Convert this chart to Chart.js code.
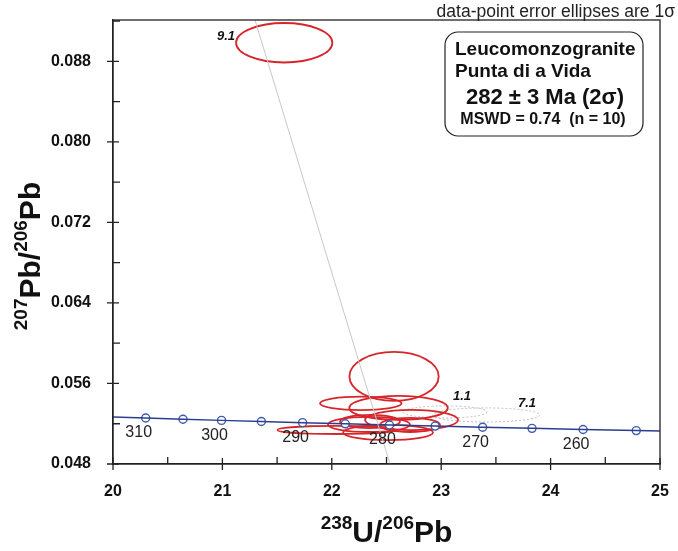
<!DOCTYPE html>
<html>
<head>
<meta charset="utf-8">
<script src="https://cdn.jsdelivr.net/npm/chart.js@4"></script>
<style>
  body { margin: 0; background: #fff; }
  #wrap { width: 678px; height: 551px; }
</style>
</head>
<body>
<div id="wrap"><canvas id="chart" width="678" height="551"></canvas></div>
<script>
// concordia ages (Ma) and their marker positions
const ages = [310, 305, 300, 295, 290, 285, 280, 275, 270, 265, 260, 255];
const concX = [20.299, 20.640, 20.992, 21.356, 21.733, 22.123, 22.527, 22.945, 23.379, 23.830, 24.297, 24.783];
const concY = [0.052565, 0.052449, 0.052333, 0.052219, 0.052105, 0.051991, 0.051877, 0.051764, 0.051652, 0.051539, 0.051427, 0.051315];
// curve ends at the axis limits
const curveEndX = [20, 25];
const curveEndY = [0.052664, 0.051266];

// accepted analyses (red ellipses): centre and 1 sigma half-axes
const ellX  = [21.565, 22.569, 22.265, 22.610, 22.042, 22.340, 22.729, 22.514, 22.349, 22.715];
const ellY  = [0.08984, 0.05670, 0.05403, 0.05357, 0.05138, 0.05193, 0.05237, 0.05113, 0.05222, 0.05188];
const ellRX = [0.440, 0.408, 0.373, 0.450, 0.539, 0.375, 0.425, 0.411, 0.274, 0.274];
const ellRY = [0.00196, 0.00243, 0.00067, 0.00119, 0.00040, 0.00075, 0.00100, 0.00075, 0.00065, 0.00070];

// excluded analyses (dotted grey)
const rejX  = [23.035, 23.41];
const rejY  = [0.05317, 0.05287];
const rejRX = [0.384, 0.49];
const rejRY = [0.0006, 0.0007];

// spot labels
const spotNames = ['9.1', '1.1', '7.1'];
const spotX = [21.033, 23.19, 23.784];
const spotY = [0.09044, 0.05476, 0.05406];

// regression line through 9.1
const regX = [21.298, 22.532];
const regY = [0.0921, 0.048];

const xTickLabels = ['20', '21', '22', '23', '24', '25'];
const yTickLabels = ['0.048', '0.056', '0.064', '0.072', '0.080', '0.088'];

const FONT = '"Liberation Sans", Arial, sans-serif';
const RED = '#d7262b';

function pts(xs, ys) {
    return xs.map((x, i) => ({x: x, y: ys[i]}));
}

const curvePts = [{x: curveEndX[0], y: curveEndY[0]}]
    .concat(pts(concX, concY))
    .concat([{x: curveEndX[1], y: curveEndY[1]}]);

function isMajor(v, step) {
    return Math.abs(Math.round(v / step) * step - v) < 1e-9;
}

function drawParts(ctx, parts, big, small, cx, baseY) {
    let w = 0;
    parts.forEach(p => {
        ctx.font = 'bold ' + (p.sup ? small : big) + 'px ' + FONT;
        p.w = ctx.measureText(p.t).width;
        w += p.w;
    });
    let x = cx - w / 2;
    ctx.textAlign = 'left';
    ctx.textBaseline = 'alphabetic';
    parts.forEach(p => {
        ctx.font = 'bold ' + (p.sup ? small : big) + 'px ' + FONT;
        ctx.fillText(p.t, x, p.sup ? baseY - big * 0.42 : baseY);
        x += p.w;
    });
}

const extras = {
    id: 'extras',
    beforeDatasetsDraw(chart) {
        const ctx = chart.ctx, a = chart.chartArea;
        const xs = chart.scales.x, ys = chart.scales.y;
        ctx.save();
        ctx.beginPath();
        ctx.rect(a.left, a.top, a.right - a.left, a.bottom - a.top);
        ctx.clip();
        // excluded
        ctx.strokeStyle = '#bdbdbd';
        ctx.lineWidth = 1;
        ctx.setLineDash([2, 2]);
        rejX.forEach((cx, i) => {
            const px = xs.getPixelForValue(cx), py = ys.getPixelForValue(rejY[i]);
            const rx = Math.abs(xs.getPixelForValue(cx + rejRX[i]) - px);
            const ry = Math.abs(ys.getPixelForValue(rejY[i] + rejRY[i]) - py);
            ctx.beginPath();
            ctx.ellipse(px, py, rx, ry, 0, 0, Math.PI * 2);
            ctx.stroke();
        });
        ctx.setLineDash([]);
        ctx.strokeStyle = RED;
        ctx.lineWidth = 1.8;
        ellX.forEach((cx, i) => {
            const px = xs.getPixelForValue(cx), py = ys.getPixelForValue(ellY[i]);
            const rx = Math.abs(xs.getPixelForValue(cx + ellRX[i]) - px);
            const ry = Math.abs(ys.getPixelForValue(ellY[i] + ellRY[i]) - py);
            ctx.beginPath();
            ctx.ellipse(px, py, rx, ry, 0, 0, Math.PI * 2);
            ctx.stroke();
        });
        ctx.restore();
    },
    afterDraw(chart) {
        const ctx = chart.ctx, a = chart.chartArea;
        const xs = chart.scales.x, ys = chart.scales.y;
        ctx.save();
        // frame
        ctx.strokeStyle = '#222';
        ctx.lineWidth = 1.3;
        ctx.strokeRect(a.left, a.top, a.right - a.left, a.bottom - a.top);
        // ticks
        ctx.beginPath();
        xs.ticks.forEach(t => {
            const px = xs.getPixelForValue(t.value);
            if (isMajor(t.value, 1)) {
                ctx.moveTo(px, a.bottom + 6); ctx.lineTo(px, a.bottom - 6);
            } else {
                ctx.moveTo(px, a.bottom); ctx.lineTo(px, a.bottom - 7);
            }
        });
        ys.ticks.forEach(t => {
            const py = ys.getPixelForValue(t.value);
            if (isMajor(t.value, 0.008)) {
                ctx.moveTo(a.left - 6, py); ctx.lineTo(a.left + 6, py);
            } else {
                ctx.moveTo(a.left, py); ctx.lineTo(a.left + 7, py);
            }
        });
        ctx.stroke();

        // age labels every 10 Ma
        ctx.fillStyle = '#222';
        ctx.font = '16px ' + FONT;
        ctx.textAlign = 'center';
        ctx.textBaseline = 'middle';
        ages.forEach((age, i) => {
            if (age % 10 !== 0) return;
            ctx.fillText(String(age), xs.getPixelForValue(concX[i]) - 7, ys.getPixelForValue(concY[i]) + 15);
        });

        // spot labels
        ctx.fillStyle = '#111';
        ctx.font = 'italic bold 13px ' + FONT;
        spotNames.forEach((s, i) => {
            ctx.fillText(s, xs.getPixelForValue(spotX[i]), ys.getPixelForValue(spotY[i]));
        });

        // axis titles
        ctx.fillStyle = '#111';
        drawParts(ctx, [{t: '238', sup: true}, {t: 'U/', sup: false}, {t: '206', sup: true}, {t: 'Pb', sup: false}],
            30, 19, (a.left + a.right) / 2, 542);
        ctx.save();
        ctx.translate(29, 256);
        ctx.rotate(-Math.PI / 2);
        drawParts(ctx, [{t: '207', sup: true}, {t: 'Pb/', sup: false}, {t: '206', sup: true}, {t: 'Pb', sup: false}],
            30, 19, 0, 11);
        ctx.restore();

        // note
        ctx.font = '17.5px ' + FONT;
        ctx.textAlign = 'right';
        ctx.textBaseline = 'alphabetic';
        ctx.fillStyle = '#222';
        ctx.fillText('data-point error ellipses are 1\u03c3', 675, 17);

        // result box
        ctx.beginPath();
        ctx.roundRect(445, 32, 198, 104, 13);
        ctx.fillStyle = '#fff';
        ctx.fill();
        ctx.strokeStyle = '#222';
        ctx.lineWidth = 1.2;
        ctx.stroke();
        ctx.fillStyle = '#111';
        ctx.textBaseline = 'middle';
        ctx.textAlign = 'left';
        ctx.font = 'bold 19px ' + FONT;
        ctx.fillText('Leucomonzogranite', 455, 50);
        ctx.fillText('Punta di a Vida', 455, 72);
        ctx.textAlign = 'center';
        ctx.font = 'bold 22px ' + FONT;
        ctx.fillText('282 \u00b1 3 Ma (2\u03c3)', 545, 98);
        ctx.font = 'bold 16px ' + FONT;
        ctx.fillText('MSWD = 0.74  (n = 10)', 543, 120);
        ctx.restore();
    }
};

new Chart(document.getElementById('chart'), {
    type: 'scatter',
    data: {
        datasets: [
            {
                label: 'regression',
                data: pts(regX, regY),
                showLine: true,
                borderColor: '#c8c8c8',
                borderWidth: 1,
                pointRadius: 0
            },
            {
                label: 'concordia',
                data: curvePts,
                showLine: true,
                borderColor: '#2c3f8f',
                borderWidth: 1.5,
                pointRadius: 0
            },
            {
                label: 'ages',
                data: pts(concX, concY),
                showLine: false,
                pointRadius: 4,
                pointBorderWidth: 1.4,
                pointBackgroundColor: '#fff',
                pointBorderColor: '#3d5ba8'
            }
        ]
    },
    options: {
        responsive: false,
        animation: false,
        layout: { padding: { top: 20, right: 18, left: 0, bottom: 0 } },
        plugins: { legend: { display: false }, tooltip: { enabled: false } },
        scales: {
            x: {
                type: 'linear',
                min: 20,
                max: 25,
                afterFit: s => { s.height = 87; s.paddingLeft = 0; s.paddingRight = 0; },
                grid: { display: false, drawTicks: false },
                border: { display: true, color: '#222', width: 1.3 },
                ticks: {
                    stepSize: 0.5,
                    autoSkip: false,
                    maxRotation: 0,
                    padding: 18,
                    color: '#111',
                    font: { family: FONT, size: 16, weight: 'bold' },
                    callback: v => isMajor(v, 1) ? xTickLabels[Math.round(v) - 20] : ''
                }
            },
            y: {
                type: 'linear',
                min: 0.048,
                max: 0.0921,
                afterFit: s => { s.width = 113; s.paddingTop = 0; s.paddingBottom = 0; },
                grid: { display: false, drawTicks: false },
                border: { display: true, color: '#222', width: 1.3 },
                ticks: {
                    stepSize: 0.004,
                    includeBounds: false,
                    autoSkip: false,
                    padding: 22,
                    color: '#111',
                    font: { family: FONT, size: 16, weight: 'bold' },
                    callback: v => isMajor(v, 0.008) ? yTickLabels[Math.round((v - 0.048) / 0.008)] : ''
                }
            }
        }
    },
    plugins: [extras]
});
</script>
</body>
</html>
